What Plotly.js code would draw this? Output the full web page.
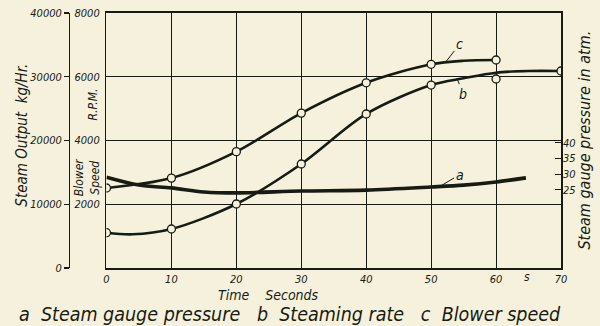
<!DOCTYPE html>
<html>
<head>
<meta charset="utf-8">
<script src="https://cdn.plot.ly/plotly-3.0.1.min.js"></script>
<style>
  html, body { margin: 0; padding: 0; background: #f6f1dc; }
  #chart { width: 600px; height: 326px; }
</style>
</head>
<body>
<div id="chart"></div>
<script>
// ---- data ----
// a: steam gauge pressure (atm, right axis)
const aTime = [0, 5, 10, 15, 20, 30, 40, 50, 55, 60, 64.6];
const aPressure = [29.0, 26.5, 25.6, 24.3, 24.0, 24.6, 24.9, 25.9, 26.5, 27.5, 28.8];

// b: steaming rate (kg/Hr, outer left axis)
const bTime = [0, 4, 10, 20, 30, 40, 50, 55, 60, 65, 70];
const bRate = [5540, 5290, 6120, 10040, 16310, 24160, 28700, 29760, 30640, 30900, 30900];
const bPointTime = [0, 10, 20, 30, 40, 50, 60, 70];
const bPointRate = [5540, 6120, 10040, 16310, 24160, 28700, 29650, 30900];

// c: blower speed (R.P.M., inner left axis)
const cTime = [0, 10, 20, 30, 40, 50, 55, 60];
const cSpeed = [2510, 2820, 3650, 4860, 5810, 6390, 6500, 6525];
const cPointTime = [0, 10, 20, 30, 40, 50, 60];
const cPointSpeed = [2510, 2820, 3650, 4860, 5810, 6390, 6525];

// axis ticks
const timeTicks = [0, 10, 20, 30, 40, 50, 60, 70];
const rpmTicks = [2000, 4000, 6000, 8000];
const kgTicks = [0, 10000, 20000, 30000, 40000];
const kgTickText = ['0', '10000', '20000', '30000', '40000'];
const atmTicks = [25, 30, 35, 40];

const ink = '#171b13';
const paper = '#f6f1dc';
const fam = 'DejaVu Sans Condensed, DejaVu Sans, sans-serif';
const tickFont = {family: fam, size: 11, color: ink, style: 'italic'};

const traces = [
  {x: aTime, y: aPressure, yaxis: 'y3', mode: 'lines',
   line: {color: ink, width: 3.6, shape: 'spline', smoothing: 0.9}, hoverinfo: 'skip'},
  {x: bTime, y: bRate, yaxis: 'y2', mode: 'lines',
   line: {color: ink, width: 2.6, shape: 'spline', smoothing: 0.9}, hoverinfo: 'skip'},
  {x: cTime, y: cSpeed, yaxis: 'y', mode: 'lines',
   line: {color: ink, width: 2.6, shape: 'spline', smoothing: 0.9}, hoverinfo: 'skip'},
  {x: bPointTime, y: bPointRate, yaxis: 'y2', mode: 'markers',
   marker: {symbol: 'circle', size: 8, color: paper, line: {color: ink, width: 1.3}}},
  {x: cPointTime, y: cPointSpeed, yaxis: 'y', mode: 'markers',
   marker: {symbol: 'circle', size: 8, color: paper, line: {color: ink, width: 1.3}}}
];

const layout = {
  width: 600, height: 326,
  margin: {l: 69, r: 39, t: 13, b: 58, pad: 0},
  paper_bgcolor: paper, plot_bgcolor: paper,
  showlegend: false,
  font: {family: fam, color: ink},
  xaxis: {
    domain: [0.0762, 1], range: [0, 70], tickvals: timeTicks,
    showgrid: true, gridcolor: ink, gridwidth: 1.1, zeroline: false,
    showline: true, linecolor: ink, linewidth: 1.6, mirror: true,
    ticks: '', tickfont: {family: fam, size: 11, color: ink, style: 'italic'},
    ticklabelstandoff: 0
  },
  yaxis: {
    range: [0, 8000], tickvals: rpmTicks,
    showgrid: true, gridcolor: ink, gridwidth: 1.1, zeroline: false,
    showline: true, linecolor: ink, linewidth: 1.6, mirror: true,
    ticks: '', tickfont: tickFont, ticklabelstandoff: 3
  },
  yaxis2: {
    overlaying: 'y', anchor: 'free', position: 0, side: 'left',
    range: [0, 40000], tickvals: kgTicks, ticktext: kgTickText,
    showgrid: false, zeroline: false,
    showline: true, linecolor: ink, linewidth: 1.3,
    ticks: 'outside', ticklen: 5, tickcolor: ink, tickwidth: 1.2,
    tickfont: tickFont, ticklabelstandoff: 0
  },
  yaxis3: {
    overlaying: 'y', anchor: 'x', side: 'right',
    range: [0, 81.5], tickvals: atmTicks,
    showgrid: false, zeroline: false, showline: false,
    ticks: 'inside', ticklen: 6, tickcolor: ink, tickwidth: 1.2,
    tickfont: tickFont, ticklabelstandoff: 1
  },
  annotations: [
    {text: 'Steam Output  kg/Hr.', xref: 'paper', yref: 'paper', x: -0.095, y: 0.52,
     xanchor: 'center', yanchor: 'middle',
     showarrow: false, textangle: -90, font: {family: fam, size: 15, color: ink, style: 'italic'}},
    {text: 'R.P.M.', xref: 'paper', yref: 'paper', x: 0.048, y: 0.64,
     xanchor: 'center', yanchor: 'middle',
     showarrow: false, textangle: -90, font: {family: fam, size: 12, color: ink, style: 'italic'}},
    {text: 'Blower<br>Speed', xref: 'paper', yref: 'paper', x: 0.038, y: 0.355,
     xanchor: 'center', yanchor: 'middle',
     showarrow: false, textangle: -90, font: {family: fam, size: 12, color: ink, style: 'italic'}},
    {text: 'Steam gauge pressure in atm.', xref: 'paper', yref: 'paper', x: 1.047, y: 0.5,
     xanchor: 'center', yanchor: 'middle',
     showarrow: false, textangle: -90, font: {family: fam, size: 16, color: ink, style: 'italic'}},
    {text: 's', xref: 'x', yref: 'paper', x: 64.7, y: 0, yshift: -9, yanchor: 'middle', xanchor: 'center',
     showarrow: false, font: {family: fam, size: 12, color: ink, style: 'italic'}},
    {text: 'Time    Seconds', xref: 'paper', yref: 'paper', x: 0.405, y: 0, yshift: -27,
     yanchor: 'middle', xanchor: 'center',
     showarrow: false, font: {family: fam, size: 14, color: ink, style: 'italic'}},
    {text: 'a  Steam gauge pressure   b  Steaming rate   c  Blower speed', xref: 'paper', yref: 'paper',
     x: 0.449, y: 0, yshift: -46, yanchor: 'middle', xanchor: 'center', showarrow: false,
     font: {family: fam, size: 19.5, color: ink, style: 'italic'}},
    {text: 'c', xref: 'x', yref: 'y', x: 52.2, y: 6450, ax: 14, ay: -18, showarrow: true,
     arrowhead: 0, arrowwidth: 1, arrowcolor: ink, standoff: 0,
     font: {family: fam, size: 14, color: ink, style: 'italic'}},
    {text: 'b', xref: 'x', yref: 'y2', x: 54.0, y: 29700, ax: 6, ay: 15, showarrow: true,
     arrowhead: 0, arrowwidth: 1, arrowcolor: ink, standoff: 0,
     font: {family: fam, size: 14, color: ink, style: 'italic'}},
    {text: 'a', xref: 'x', yref: 'y3', x: 51.3, y: 26.0, ax: 20, ay: -12, showarrow: true,
     arrowhead: 0, arrowwidth: 1, arrowcolor: ink, standoff: 0,
     font: {family: fam, size: 14, color: ink, style: 'italic'}}
  ]
};

Plotly.newPlot('chart', traces, layout, {staticPlot: true, displayModeBar: false});
</script>
</body>
</html>
